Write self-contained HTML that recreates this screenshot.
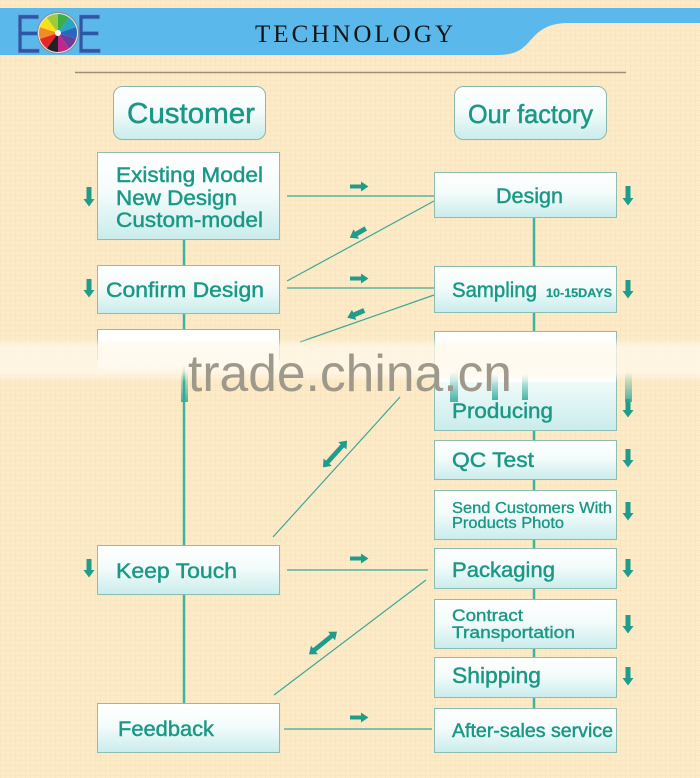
<!DOCTYPE html>
<html><head><meta charset="utf-8">
<style>
html,body{margin:0;padding:0;background:#fdebc8;}
svg{display:block}
text{font-family:"Liberation Sans",Arial,sans-serif;}
</style></head><body>
<svg width="700" height="778" viewBox="0 0 700 778" xmlns="http://www.w3.org/2000/svg">
<defs>
<linearGradient id="bx" x1="0" y1="0" x2="0" y2="1">
<stop offset="0" stop-color="#ffffff"/><stop offset="0.45" stop-color="#f4fcfb"/><stop offset="1" stop-color="#c9eceb"/>
</linearGradient>
<linearGradient id="band" x1="0" y1="0" x2="0" y2="1">
<stop offset="0" stop-color="#fff8ea" stop-opacity="0"/>
<stop offset="0.2" stop-color="#fff8ea" stop-opacity="0.75"/>
<stop offset="0.8" stop-color="#fff8ea" stop-opacity="0.75"/>
<stop offset="1" stop-color="#fff8ea" stop-opacity="0"/>
</linearGradient>
<linearGradient id="streak" x1="0" y1="0" x2="0" y2="1">
<stop offset="0" stop-color="#2aa896" stop-opacity="0"/>
<stop offset="1" stop-color="#2aa896" stop-opacity="0.85"/>
</linearGradient>
<linearGradient id="cfade" x1="0" y1="0" x2="0" y2="1">
<stop offset="0" stop-color="#ffffff"/><stop offset="0.8" stop-color="#ffffff"/><stop offset="1" stop-color="#ffffff" stop-opacity="0"/>
</linearGradient>
<pattern id="grid" width="5" height="5" patternUnits="userSpaceOnUse"><path d="M0 0.5H5M0.5 0V5" stroke="#f1dcb4" stroke-width="1" opacity="0.35"/></pattern>
</defs>
<rect width="700" height="778" fill="#fdebc8"/>
<rect width="700" height="778" fill="url(#grid)"/>

<!-- header -->
<path d="M0 8 H700 V23 H568 C545 23 537 33 529 42 C521 51 513 55 498 55 H0 Z" fill="#5bb8ea"/>
<!-- logo -->
<text x="0" y="0" transform="translate(15,53) scale(0.7,1)" font-size="56" fill="#2b58a6" stroke="#6f9bd6" stroke-width="0.8">E</text>
<text x="0" y="0" transform="translate(76,53) scale(0.7,1)" font-size="56" fill="#2b58a6" stroke="#6f9bd6" stroke-width="0.8">E</text>
<circle cx="58" cy="33" r="20.5" fill="#e8e8e8" stroke="#8a8a8a" stroke-width="1"/>
<path d="M58 33 L58 14 A19 19 0 0 1 69.17 17.63Z" fill="#3cae49"/>
<path d="M58 33 L69.17 17.63 A19 19 0 0 1 76.07 27.13Z" fill="#27a6c8"/>
<path d="M58 33 L76.07 27.13 A19 19 0 0 1 76.07 38.87Z" fill="#2a66c0"/>
<path d="M58 33 L76.07 38.87 A19 19 0 0 1 69.17 48.37Z" fill="#6a3c9b"/>
<path d="M58 33 L69.17 48.37 A19 19 0 0 1 58 52Z" fill="#c2268c"/>
<path d="M58 33 L58 52 A19 19 0 0 1 46.83 48.37Z" fill="#222"/>
<path d="M58 33 L46.83 48.37 A19 19 0 0 1 39.93 38.87Z" fill="#e8262a"/>
<path d="M58 33 L39.93 38.87 A19 19 0 0 1 39.93 27.13Z" fill="#f28b20"/>
<path d="M58 33 L39.93 27.13 A19 19 0 0 1 46.83 17.63Z" fill="#f7e11b"/>
<path d="M58 33 L46.83 17.63 A19 19 0 0 1 58 14Z" fill="#9ccc3c"/>
<circle cx="58" cy="33" r="3" fill="#fff"/>
<text x="255" y="42" font-size="25" fill="#151515" textLength="198" lengthAdjust="spacing" style="font-family:'Liberation Serif',serif">TECHNOLOGY</text>

<line x1="75" y1="72.5" x2="626" y2="72.5" stroke="#9c8f78" stroke-width="1.5"/>

<!-- header boxes -->
<rect x="113.5" y="86.5" width="152" height="53" rx="9" fill="url(#bx)" stroke="#86b8ad"/>
<text x="127" y="123" font-size="29" fill="#1a9886" stroke="#1a9886" stroke-width="0.5" textLength="128" lengthAdjust="spacingAndGlyphs">Customer</text>
<rect x="454.5" y="86.5" width="152" height="53" rx="9" fill="url(#bx)" stroke="#86b8ad"/>
<text x="468" y="123" font-size="26" fill="#1a9886" stroke="#1a9886" stroke-width="0.5" textLength="125" lengthAdjust="spacingAndGlyphs">Our factory</text>

<!-- vertical connectors -->
<line x1="184" y1="239" x2="184" y2="703" stroke="#3db3a2" stroke-width="2.5"/>
<line x1="534" y1="217" x2="534" y2="708" stroke="#3db3a2" stroke-width="2.5"/>

<!-- cross connectors -->
<g stroke="#3aa898" stroke-width="1.2">
<line x1="287" y1="196" x2="434" y2="196"/>
<line x1="434" y1="201" x2="287" y2="281"/>
<line x1="287" y1="288" x2="434" y2="288"/>
<line x1="434" y1="295" x2="300" y2="342"/>
<line x1="273" y1="537" x2="400" y2="397"/>
<line x1="287" y1="570" x2="428" y2="570"/>
<line x1="426" y1="580" x2="274" y2="695"/>
<line x1="284" y1="729" x2="432" y2="729"/>
</g>

<!-- left boxes -->
<g fill="url(#bx)" stroke="#8dbcb2">
<rect x="97.5" y="152.5" width="182" height="87"/>
<rect x="97.5" y="265.5" width="182" height="48"/>
<rect x="97.5" y="545.5" width="182" height="49"/>
<rect x="97.5" y="703.5" width="182" height="49"/>
</g>
<rect x="97.5" y="329.5" width="182" height="44" fill="url(#cfade)"/>
<path d="M97.5 360 V329.5 H279.5 V360" fill="none" stroke="#8dbcb2"/>

<!-- right boxes -->
<g fill="url(#bx)" stroke="#8dbcb2">
<rect x="434.5" y="172.5" width="182" height="45"/>
<rect x="434.5" y="266.5" width="182" height="46"/>
<rect x="434.5" y="331.5" width="182" height="99"/>
<rect x="434.5" y="440.5" width="182" height="39"/>
<rect x="434.5" y="490.5" width="182" height="49"/>
<rect x="434.5" y="548.5" width="182" height="40"/>
<rect x="434.5" y="599.5" width="182" height="49"/>
<rect x="434.5" y="657.5" width="182" height="40"/>
<rect x="434.5" y="708.5" width="182" height="44"/>
</g>
<rect x="435" y="332" width="181" height="50" fill="#ffffff"/>

<!-- left texts -->
<g fill="#1a9886" stroke="#1a9886" stroke-width="0.45" font-size="21">
<text x="116" y="182" textLength="147" lengthAdjust="spacingAndGlyphs">Existing Model</text>
<text x="116" y="205" textLength="121" lengthAdjust="spacingAndGlyphs">New Design</text>
<text x="116" y="227" textLength="147" lengthAdjust="spacingAndGlyphs">Custom-model</text>
<text x="106" y="297" textLength="158" lengthAdjust="spacingAndGlyphs">Confirm Design</text>
<text x="116" y="578" textLength="121" lengthAdjust="spacingAndGlyphs">Keep Touch</text>
<text x="118" y="736" textLength="96" lengthAdjust="spacingAndGlyphs">Feedback</text>
</g>

<!-- right texts -->
<g fill="#1a9886" stroke="#1a9886" stroke-width="0.45" font-size="21">
<text x="496" y="203" textLength="67" lengthAdjust="spacingAndGlyphs">Design</text>
<text x="452" y="297" textLength="85" lengthAdjust="spacingAndGlyphs">Sampling</text>
<text x="546" y="297" font-size="12" font-weight="bold" stroke-width="0.2" textLength="66" lengthAdjust="spacingAndGlyphs">10-15DAYS</text>
<text x="452" y="418" textLength="101" lengthAdjust="spacingAndGlyphs">Producing</text>
<text x="452" y="467" textLength="82" lengthAdjust="spacingAndGlyphs">QC Test</text>
<text x="452" y="513" font-size="16" stroke-width="0.35" textLength="160" lengthAdjust="spacingAndGlyphs">Send Customers With</text>
<text x="452" y="528" font-size="16" stroke-width="0.35" textLength="112" lengthAdjust="spacingAndGlyphs">Products Photo</text>
<text x="452" y="577" textLength="103" lengthAdjust="spacingAndGlyphs">Packaging</text>
<text x="452" y="621" font-size="17" stroke-width="0.4" textLength="71" lengthAdjust="spacingAndGlyphs">Contract</text>
<text x="452" y="638" font-size="17" stroke-width="0.4" textLength="123" lengthAdjust="spacingAndGlyphs">Transportation</text>
<text x="452" y="683" font-size="22" textLength="89" lengthAdjust="spacingAndGlyphs">Shipping</text>
<text x="452" y="737" font-size="19" textLength="161" lengthAdjust="spacingAndGlyphs">After-sales service</text>
</g>

<!-- arrows -->
<g fill="#1f9c8c">
<path d="M350 184.5 h11 v-3 l7.5 5 l-7.5 5 v-3 h-11z"/>
<path d="M350 276.5 h11 v-3 l7.5 5 l-7.5 5 v-3 h-11z"/>
<path d="M350 556.5 h11 v-3 l7.5 5 l-7.5 5 v-3 h-11z"/>
<path d="M350 715.5 h11 v-3 l7.5 5 l-7.5 5 v-3 h-11z"/>
<path d="M86.5 187 v12 h-3 l5.5 7.5 l5.5 -7.5 h-3 v-12z"/>
<path d="M86.5 279 v11 h-3 l5.5 7.5 l5.5 -7.5 h-3 v-11z"/>
<path d="M86.5 559 v11 h-3 l5.5 7.5 l5.5 -7.5 h-3 v-11z"/>
<path d="M625.5 186 v12 h-3 l5.5 7.5 l5.5 -7.5 h-3 v-12z"/>
<path d="M625.5 280 v11 h-3 l5.5 7.5 l5.5 -7.5 h-3 v-11z"/>
<path d="M625.5 399 v11 h-3 l5.5 7.5 l5.5 -7.5 h-3 v-11z"/>
<path d="M625.5 449 v11 h-3 l5.5 7.5 l5.5 -7.5 h-3 v-11z"/>
<path d="M625.5 502 v11 h-3 l5.5 7.5 l5.5 -7.5 h-3 v-11z"/>
<path d="M625.5 559 v11 h-3 l5.5 7.5 l5.5 -7.5 h-3 v-11z"/>
<path d="M625.5 615 v11 h-3 l5.5 7.5 l5.5 -7.5 h-3 v-11z"/>
<path d="M625.5 667 v11 h-3 l5.5 7.5 l5.5 -7.5 h-3 v-11z"/>
<path transform="translate(358,233) rotate(150)" d="M-9 -2.5 H2 V-5.5 L9.5 0 L2 5.5 V2.5 H-9 Z"/>
<path transform="translate(356,314) rotate(157)" d="M-9 -2.5 H2 V-5.5 L9.5 0 L2 5.5 V2.5 H-9 Z"/>
<path transform="translate(335,454) rotate(-48)" d="M-18 0 L-11 -5.5 V-2.3 H11 V-5.5 L18 0 L11 5.5 V2.3 H-11 V5.5 Z"/>
<path transform="translate(323,643) rotate(-39)" d="M-18 0 L-11 -5.5 V-2.3 H11 V-5.5 L18 0 L11 5.5 V2.3 H-11 V5.5 Z"/>
</g>

<!-- watermark band -->
<rect x="0" y="338" width="700" height="44" fill="url(#band)"/>
<rect x="181" y="370" width="7" height="32" fill="url(#streak)"/>
<rect x="450" y="372" width="8" height="30" fill="url(#streak)"/>
<rect x="492" y="374" width="6" height="26" fill="url(#streak)"/>
<rect x="522" y="374" width="6" height="26" fill="url(#streak)"/>
<rect x="625" y="372" width="7" height="30" fill="url(#streak)"/>
<text x="188" y="391" font-size="52" fill="#9e998b" textLength="324" lengthAdjust="spacingAndGlyphs">trade.china.cn</text>
</svg>
</body></html>
